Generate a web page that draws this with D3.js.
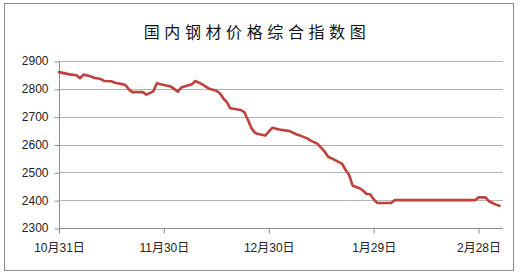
<!DOCTYPE html>
<html>
<head>
<meta charset="utf-8">
<script src="https://cdn.jsdelivr.net/npm/d3@7"></script>
<style>
  body { margin: 0; background: #fff; }
  #chart { width: 522px; height: 275px; }
  text { font-family: "Liberation Sans", "Noto Sans CJK SC", sans-serif; }
</style>
</head>
<body>
<div id="chart"></div>
<script>
'use strict';

var title = "国内钢材价格综合指数图";

var dates = [
	"2012-10-31","2012-11-03","2012-11-05","2012-11-06","2012-11-07","2012-11-09","2012-11-10",
	"2012-11-12","2012-11-13","2012-11-15","2012-11-16","2012-11-18","2012-11-19","2012-11-20",
	"2012-11-21","2012-11-24","2012-11-25","2012-11-27","2012-11-28","2012-11-30","2012-12-02",
	"2012-12-04","2012-12-05","2012-12-07","2012-12-08","2012-12-09","2012-12-11","2012-12-13",
	"2012-12-15","2012-12-16","2012-12-17","2012-12-18","2012-12-19","2012-12-22","2012-12-23",
	"2012-12-24","2012-12-25","2012-12-26","2012-12-27","2012-12-29","2012-12-30","2012-12-31",
	"2013-01-02","2013-01-05","2013-01-07","2013-01-08","2013-01-10","2013-01-11","2013-01-13",
	"2013-01-14","2013-01-15","2013-01-16","2013-01-18","2013-01-20","2013-01-21","2013-01-22",
	"2013-01-23","2013-01-25","2013-01-26","2013-01-27","2013-01-28","2013-01-29","2013-01-30",
	"2013-02-03","2013-02-04","2013-02-27","2013-02-28","2013-03-02","2013-03-03","2013-03-05",
	"2013-03-06"
];

var values = [
	2860, 2852, 2849, 2838, 2851, 2845, 2840,
	2835, 2828, 2827, 2822, 2817, 2814, 2798,
	2788, 2788, 2779, 2791, 2820, 2814, 2808,
	2790, 2805, 2813, 2816, 2828, 2816, 2800,
	2793, 2784, 2766, 2752, 2730, 2724, 2716,
	2690, 2660, 2642, 2638, 2632, 2646, 2660,
	2654, 2648, 2636, 2632, 2622, 2614, 2602,
	2588, 2574, 2556, 2544, 2530, 2508, 2490,
	2452, 2443, 2434, 2422, 2421, 2403, 2390,
	2390, 2400, 2400, 2410, 2410, 2396, 2384,
	2380
];

var xTickDates  = ["2012-10-31", "2012-11-30", "2012-12-30", "2013-01-29", "2013-02-28"];
var xTickLabels = ["10月31日", "11月30日", "12月30日", "1月29日", "2月28日"];
var yTicks      = [2300, 2400, 2500, 2600, 2700, 2800, 2900];

var parseDate = d3.timeParse("%Y-%m-%d");

var svgWidth  = 522,
	svgHeight = 275,
	margin    = {top: 61, right: 19, bottom: 47, left: 59};

var	width  = svgWidth - margin.left - margin.right,
	height = svgHeight - margin.top - margin.bottom;

var svg = d3.select("#chart")
	.append("svg")
	.attr("width", svgWidth)
	.attr("height", svgHeight);

// outer frame
svg.append("rect")
	.attr("x", 4.5)
	.attr("y", 3.5)
	.attr("width", 509)
	.attr("height", 267)
	.attr("fill", "#fff")
	.attr("stroke", "#8c8c8c")
	.attr("stroke-width", 1);

svg.append("text")
	.attr("x", 257)
	.attr("y", 38)
	.attr("text-anchor", "middle")
	.style("font-family", "'Noto Sans CJK SC', sans-serif")
	.style("font-size", "16px")
	.style("letter-spacing", "4.6px")
	.style("fill", "#111")
	.text(title);

var g = svg.append("g").attr("transform", "translate(" + [margin.left, margin.top] + ")");

var x = d3.scaleTime()
	.domain([parseDate("2012-10-31"), parseDate("2013-03-07")])
	.range([0, width]);

var y = d3.scaleLinear()
	.domain([2300, 2900])
	.range([height, 0]);

// gridlines
g.append("g")
	.selectAll("line")
	.data(yTicks.slice(1))
	.enter().append("line")
	.attr("x1", 0)
	.attr("x2", width)
	.attr("y1", function(d) { return Math.round(y(d)) + 0.5; })
	.attr("y2", function(d) { return Math.round(y(d)) + 0.5; })
	.attr("stroke", "#b4b4b4")
	.attr("stroke-width", 1);

// y axis
var yAxis = g.append("g")
	.attr("transform", "translate(0.5,0)")
	.call(d3.axisLeft(y).tickValues(yTicks).tickSize(5).tickPadding(6).tickFormat(d3.format("d")));
yAxis.selectAll("path, line")
	.attr("stroke", "#8c8c8c")
	.attr("transform", "translate(0,0.5)");
yAxis.select("path").attr("d", "M0," + 0 + "V" + height).attr("transform", null);
yAxis.selectAll("text")
	.style("font-size", "12px")
	.style("fill", "#222");

// x axis
var xAxis = g.append("g")
	.attr("transform", "translate(0," + (Math.round(height) + 0.5) + ")")
	.call(d3.axisBottom(x)
		.tickValues(xTickDates.map(parseDate))
		.tickSize(5)
		.tickPadding(10)
		.tickFormat(function(d, i) { return xTickLabels[i]; }));
xAxis.select("path").attr("d", "M0,0H" + width);
xAxis.selectAll("path, line").attr("stroke", "#8c8c8c");
xAxis.selectAll("text")
	.style("font-size", "12px")
	.style("fill", "#222");

var data = dates.map(function(d, i) { return {date: parseDate(d), value: values[i]}; });

var line = d3.line()
	.x(function(d) { return x(d.date); })
	.y(function(d) { return y(d.value); });

g.append("path")
	.datum(data)
	.attr("d", line)
	.attr("fill", "none")
	.attr("stroke", "#c0403c")
	.attr("stroke-width", 2.6)
	.attr("stroke-linejoin", "round")
	.attr("stroke-linecap", "round");
</script>
</body>
</html>
